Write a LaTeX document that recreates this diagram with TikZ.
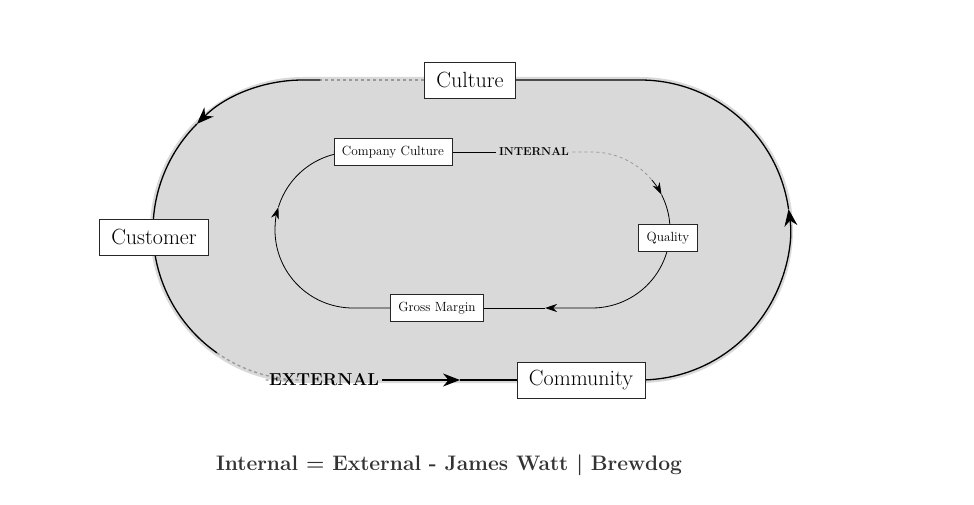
\documentclass[tikz,border=0pt]{standalone}
\usepackage{tikz}
\usetikzlibrary{arrows.meta,backgrounds}

\begin{document}
\begin{tikzpicture}[
  x=1pt, y=1pt,
  bigbox/.style={draw=black!85, fill=white, line width=0.7pt, font=\fontsize{22}{26}\selectfont, inner xsep=12pt, minimum height=36pt},
  smallbox/.style={draw=black!85, fill=white, line width=0.6pt, font=\fontsize{13.3}{16}\selectfont, inner xsep=8pt, minimum height=27pt},
  outer/.style={line width=1.3pt},
  inner/.style={line width=0.8pt},
  fade/.style={black!40, dashed},
  bigarr/.style={-{Stealth[length=17pt,width=13pt]}},
  smallarr/.style={-{Stealth[length=12pt,width=8pt]}}
]
  \useasboundingbox (0,0) rectangle (974,504);
  % centres of the two loops
  \coordinate (ol) at (303,274);
  \coordinate (or) at (640,274);
  \coordinate (il) at (353,274);
  \coordinate (ir) at (592,274);

  % outer loop labels
  \node[bigbox] (culture) at (470,424) {Culture};
  \node[bigbox] (customer) at (154,267) {Customer};
  \node[bigbox] (community) at (581,124) {Community};
  \node[font=\fontsize{17.3}{20}\selectfont\bfseries] (external) at (324,124) {EXTERNAL};

  % inner loop labels
  \node[smallbox] (compculture) at (393,352) {Company Culture};
  \node[smallbox] (quality) at (668,266) {Quality};
  \node[smallbox] (margin) at (437,196) {Gross Margin};
  \node[font=\fontsize{11.5}{14}\selectfont\bfseries] (internal) at (534,352) {INTERNAL};

  \node[font=\fontsize{21}{25}\selectfont\bfseries, text=black!80] (caption) at (449,39) {Internal = External - James Watt | Brewdog};

  \begin{scope}[on background layer]
    \fill[black!15] (303,427) -- (640,427) arc[start angle=90, end angle=-90, radius=153pt]
      -- (303,121) arc[start angle=270, end angle=90, radius=153pt] -- cycle;

    % outer loop
    \draw[outer, fade] (culture.west) -- (320,424);
    \draw[outer, bigarr] (320,424) -- (303,424) arc[start angle=90, end angle=135, radius=150pt];
    \draw[outer] ([shift={(135:150pt)}]ol) arc[start angle=135, end angle=235, radius=150pt];
    \draw[outer, fade] ([shift={(235:150pt)}]ol) arc[start angle=235, end angle=270, radius=150pt] -- (external.west);
    \draw[outer, bigarr] (external.east) -- (460,124);
    \draw[outer] (460,124) -- (community.west);
    \draw[outer, bigarr] (community.east) -- (640,124) arc[start angle=270, end angle=368, radius=150pt];
    \draw[outer] ([shift={(8:150pt)}]or) arc[start angle=8, end angle=90, radius=150pt] -- (culture.east);

    % inner loop
    \draw[inner] (compculture.east) -- (internal.west);
    \draw[inner, fade] (internal.east) -- (592,352) arc[start angle=90, end angle=40, radius=78pt];
    \draw[inner, smallarr] ([shift={(40:78pt)}]ir) arc[start angle=40, end angle=27, radius=78pt];
    \draw[inner, smallarr] ([shift={(27:78pt)}]ir) arc[start angle=27, end angle=-90, radius=78pt] -- (545,196);
    \draw[inner] (545,196) -- (margin.east);
    \draw[inner] (margin.west) -- (353,196) arc[start angle=270, end angle=180, radius=78pt];
    \draw[inner, smallarr] (275,274) arc[start angle=180, end angle=163, radius=78pt];
    \draw[inner] ([shift={(163:78pt)}]il) arc[start angle=163, end angle=90, radius=78pt] -- (compculture.west);
  \end{scope}
\end{tikzpicture}
\end{document}
